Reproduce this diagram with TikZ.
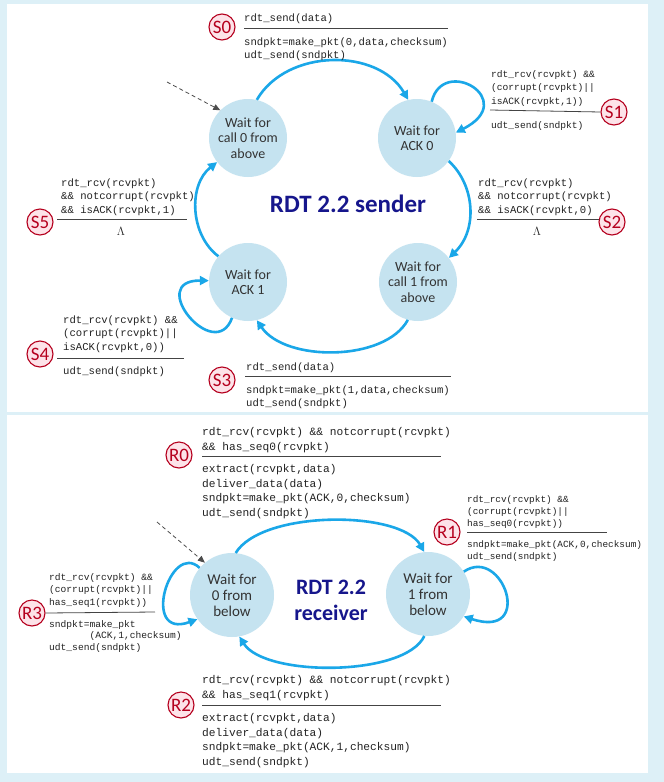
\documentclass[tikz,border=0pt]{standalone}
\usepackage{fontspec}
\usetikzlibrary{arrows.meta}
\newfontfamily\monof{Liberation Mono}
\newfontfamily\calib{Carlito}
\definecolor{bgblue}{HTML}{DDF0F7}
\definecolor{stfill}{HTML}{C5E3F0}
\definecolor{arrowblue}{HTML}{1AA7E8}
\definecolor{navy}{HTML}{16168C}
\definecolor{badgered}{HTML}{B5001E}
\definecolor{badgefill}{HTML}{FDE3E9}
\definecolor{txtgray}{HTML}{222222}
\definecolor{stgray}{HTML}{333333}
\definecolor{rulegray}{HTML}{444444}
\newcommand\firstln{\rule{0pt}{10pt}}
\begin{document}
\begin{tikzpicture}[x=1pt,y=-1pt,
  state/.style={circle, fill=stfill, inner sep=0pt, text=stgray, align=center},
  sstate/.style={state, minimum size=78pt, font=\calib\fontsize{14}{15.5}\selectfont},
  rstate/.style={state, minimum size=84pt, font=\calib\fontsize{15}{16}\selectfont},
  trans/.style={draw=arrowblue, line width=2.6pt, -{Triangle[length=9pt,width=9pt]}},
  badge/.style={circle, draw=badgered, line width=1.1pt, fill=badgefill, minimum size=26pt, inner sep=0pt, text=badgered, font=\calib\fontsize{19}{19}\selectfont},
  lbl/.style={anchor=north west, inner sep=0pt, align=left, text=txtgray, yshift=10pt},
  fs/.style={font=\monof\fontsize{10.6}{13.5}\selectfont},
  fss/.style={font=\monof\fontsize{9.6}{13.5}\selectfont},
  fr/.style={font=\monof\fontsize{11.2}{14.6}\selectfont},
  frs/.style={font=\monof\fontsize{9.4}{11.8}\selectfont},
  fra/.style={font=\monof\fontsize{9.6}{12.5}\selectfont},
  frb/.style={font=\monof\fontsize{9.6}{11.5}\selectfont},
  lam/.style={text=txtgray, inner sep=0pt, font=\fontsize{12}{12}\selectfont},
  guardrule/.style={draw=rulegray, line width=0.8pt},
  title/.style={text=navy, align=center, font=\calib\bfseries\fontsize{25}{26}\selectfont},
  rtitle/.style={text=navy, align=center, font=\calib\bfseries\fontsize{22}{26}\selectfont},
  init/.style={draw=black!70, line width=0.8pt, dash pattern=on 4pt off 3pt, -{Triangle[length=7pt,width=6pt]}}
]
\useasboundingbox (0,0) rectangle (664,782);
\fill[bgblue] (0,0) rectangle (664,782);
\fill[white] (7,3.5) rectangle (647.5,412);
\fill[white] (7,414.5) rectangle (647.5,773);

% ---------------- sender ----------------
\node[sstate] (A) at (248,138) {Wait for\\call 0 from\\above};
\node[sstate] (B) at (417,138) {Wait for\\ACK 0};
\node[sstate] (C) at (248,282) {Wait for\\ACK 1};
\node[sstate] (D) at (418,282) {Wait for\\call 1 from\\above};
\node[title] (stitle) at (348,204) {RDT 2.2 sender};

\coordinate (sinit) at (167,82);
\draw[init] (sinit) -- (A.135);
\draw[trans] (A.77) .. controls (287,48) and (378,48) .. (B.103);
\draw[trans] (B.68) .. controls (443,55) and (520,100) .. (B.8);
\draw[trans] (B.-36) .. controls (475,185) and (478,230) .. (D.38);
\draw[trans] (D.-105) .. controls (385,362) and (285,362) .. (C.-77);
\draw[trans] (C.-114) .. controls (215,365) and (145,280) .. (C.178);
\draw[trans] (C.139) .. controls (190,235) and (188,185) .. (A.-142);

% S0
\node[badge] (s0b) at (222,27) {S0};
\node[lbl,fs] (s0g) at (244,21) {\firstln rdt\_send(data)};
\draw[guardrule] (244,28) -- (448,28);
\node[lbl,fs] (s0a) at (244,45) {\firstln sndpkt=make\_pkt(0,data,checksum)\\udt\_send(sndpkt)};
% S1
\node[badge] (s1b) at (614,112) {S1};
\node[lbl,fss] (s1g) at (491,77) {\firstln rdt\_rcv(rcvpkt) \&\&\\(corrupt(rcvpkt)||\\isACK(rcvpkt,1))};
\draw[guardrule] (490,110) -- (s1b.west);
\node[lbl,fss] (s1a) at (491,128) {\firstln udt\_send(sndpkt)};
% S2
\node[badge] (s2b) at (612,222) {S2};
\node[lbl,fs] (s2g) at (478,186) {\firstln rdt\_rcv(rcvpkt)\\\&\& notcorrupt(rcvpkt)\\\&\& isACK(rcvpkt,0)};
\draw[guardrule] (477,219) -- (599,219);
\node[lam] (s2a) at (537,231) {$\Lambda$};
% S5
\node[badge] (s5b) at (40,222) {S5};
\node[lbl,fs] (s5g) at (61,186) {\firstln rdt\_rcv(rcvpkt)\\\&\& notcorrupt(rcvpkt)\\\&\& isACK(rcvpkt,1)};
\draw[guardrule] (57,219) -- (187,219);
\node[lam] (s5a) at (121,231) {$\Lambda$};
% S4
\node[badge] (s4b) at (40,354) {S4};
\node[lbl,fs] (s4g) at (63,323) {\firstln rdt\_rcv(rcvpkt) \&\&\\(corrupt(rcvpkt)||\\isACK(rcvpkt,0))};
\draw[guardrule] (57,358) -- (184,358);
\node[lbl,fs] (s4a) at (63,374) {\firstln udt\_send(sndpkt)};
% S3
\node[badge] (s3b) at (222,380) {S3};
\node[lbl,fs] (s3g) at (246,370) {\firstln rdt\_send(data)};
\draw[guardrule] (245,376) -- (451,376);
\node[lbl,fs] (s3a) at (246,393) {\firstln sndpkt=make\_pkt(1,data,checksum)\\udt\_send(sndpkt)};

% ---------------- receiver ----------------
\node[rstate] (E) at (232,595) {Wait for\\0 from\\below};
\node[rstate] (F) at (428,594) {Wait for\\1 from\\below};
\node[rtitle] (rtitle) at (331,600) {RDT 2.2\\receiver};

\coordinate (rinit) at (157,522);
\draw[init] (rinit) -- (E.130);
\draw[trans] (E.85) .. controls (262,510) and (400,510) .. (F.95);
\draw[trans] (F.32) .. controls (503,545) and (535,640) .. (F.-32);
\draw[trans] (F.-95) .. controls (405,677) and (265,677) .. (E.-80);
\draw[trans] (E.140) .. controls (170,540) and (140,640) .. (E.215);

% R0
\node[badge] (r0b) at (179,455) {R0};
\node[lbl,fr] (r0g) at (202,435.5) {\firstln rdt\_rcv(rcvpkt) \&\& notcorrupt(rcvpkt)\\\&\& has\_seq0(rcvpkt)};
\draw[guardrule] (202,456) -- (441,456);
\node[lbl,fr] (r0a) at (202,472.5) {\firstln extract(rcvpkt,data)\\deliver\_data(data)\\sndpkt=make\_pkt(ACK,0,checksum)\\udt\_send(sndpkt)};
% R1
\node[badge] (r1b) at (447,532) {R1};
\node[lbl,frs] (r1g) at (467,502.5) {\firstln rdt\_rcv(rcvpkt) \&\&\\(corrupt(rcvpkt)||\\has\_seq0(rcvpkt))};
\draw[guardrule] (467,532.5) -- (607,532.5);
\node[lbl,frs] (r1a) at (467,547.5) {\firstln sndpkt=make\_pkt(ACK,0,checksum)\\udt\_send(sndpkt)};
% R2
\node[badge] (r2b) at (181,705) {R2};
\node[lbl,fr] (r2g) at (202,683.5) {\firstln rdt\_rcv(rcvpkt) \&\& notcorrupt(rcvpkt)\\\&\& has\_seq1(rcvpkt)};
\draw[guardrule] (202,705) -- (441,705);
\node[lbl,fr] (r2a) at (202,721.5) {\firstln extract(rcvpkt,data)\\deliver\_data(data)\\sndpkt=make\_pkt(ACK,1,checksum)\\udt\_send(sndpkt)};
% R3
\node[badge] (r3b) at (32,613) {R3};
\node[lbl,fra] (r3g) at (49,580) {\firstln rdt\_rcv(rcvpkt) \&\&\\(corrupt(rcvpkt)||\\has\_seq1(rcvpkt))};
\draw[guardrule] (r3b.east) -- (155,612);
\node[lbl,frb] (r3a) at (49,627) {\firstln sndpkt=make\_pkt\\\phantom{sndpkt=}(ACK,1,checksum)\\udt\_send(sndpkt)};
\end{tikzpicture}
\end{document}
